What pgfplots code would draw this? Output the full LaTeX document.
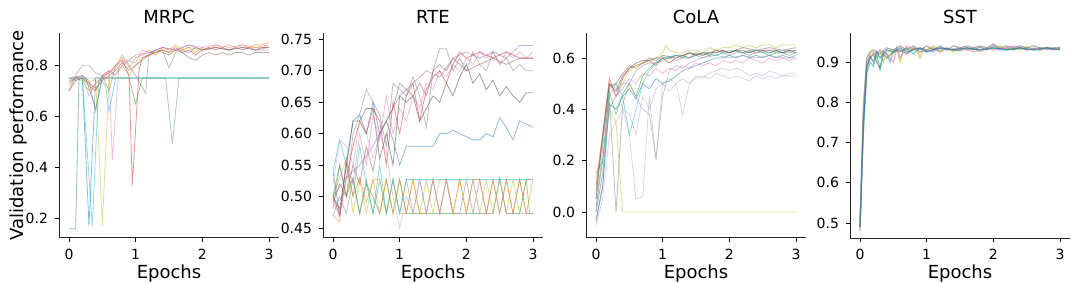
\documentclass[border=0pt]{standalone}
\usepackage{fontspec}
\setmainfont{DejaVu Sans}
\usepackage{pgfplots}
\pgfplotsset{compat=1.18}
\definecolor{tb}{HTML}{1F77B4}
\definecolor{to}{HTML}{FF7F0E}
\definecolor{tg}{HTML}{2CA02C}
\definecolor{tr}{HTML}{D62728}
\definecolor{tp}{HTML}{9467BD}
\definecolor{tbr}{HTML}{8C564B}
\definecolor{tpk}{HTML}{E377C2}
\definecolor{tgy}{HTML}{7F7F7F}
\definecolor{tol}{HTML}{BCBD22}
\definecolor{tc}{HTML}{17BECF}
\pgfplotsset{
  every axis title shift=0pt,
  panel/.style={
    scale only axis, width=110pt, height=102.5pt,
    xmin=-0.15, xmax=3.15,
    axis x line*=bottom, axis y line*=left,
    xtick={0,1,2,3},
    tick align=outside, major tick length=2pt,
    tick style={black, line width=0.4pt},
    axis line style={line width=0.5pt, black!85},
    ticklabel style={font=\fontsize{7}{8}\selectfont},
    /pgf/number format/assume math mode=true,
    xlabel={Epochs},
    xlabel style={font=\fontsize{9}{10}\selectfont, at={(axis description cs:0.5,-0.175)}, anchor=center},
    title style={font=\fontsize{9}{10}\selectfont, at={(axis description cs:0.5,1.08)}, anchor=center, yshift=0pt},
    every axis plot/.append style={line width=0.4pt, opacity=0.5},
    anchor=south west,
  },
}
\begin{document}
\begin{tikzpicture}
\useasboundingbox (0,0) rectangle (540pt,141.5pt);
% ---------------- MRPC ----------------
\begin{axis}[panel, at={(29.5pt,22.5pt)}, title={MRPC},
  ymin=0.1235, ymax=0.9265, ytick={0.2,0.4,0.6,0.8},
  yticklabel style={/pgf/number format/fixed, /pgf/number format/fixed zerofill, /pgf/number format/precision=1},
  ylabel={Validation performance},
  ylabel style={font=\fontsize{9}{10}\selectfont, at={(axis description cs:-0.185,0.5)}, rotate=0, anchor=center}]
\addplot[tb] coordinates {(0,0.16)(0.1,0.16)(0.15,0.75)(0.2,0.75)(0.3,0.17)(0.4,0.75)(0.6,0.75)(3,0.75)};
\addplot[tgy!70!tc] coordinates {(0,0.75)(0.5,0.75)(1.0,0.75)(1.45,0.75)(1.55,0.49)(1.65,0.75)(3,0.75)};
\addplot[tol] coordinates {(0,0.72)(0.1,0.75)(0.2,0.75)(0.3,0.73)(0.4,0.75)(0.5,0.17)(0.6,0.75)(0.7,0.77)(0.8,0.8)(0.9,0.76)(1.0,0.8)(1.1,0.83)(1.2,0.84)(1.3,0.85)(1.4,0.86)(1.5,0.85)(1.6,0.86)(1.8,0.87)(2.0,0.86)(2.2,0.87)(2.4,0.86)(2.6,0.87)(2.8,0.87)(3.0,0.87)};
\addplot[tr] coordinates {(0,0.7)(0.1,0.74)(0.2,0.75)(0.3,0.72)(0.4,0.7)(0.5,0.76)(0.6,0.77)(0.7,0.8)(0.8,0.82)(0.9,0.76)(0.95,0.33)(1.05,0.78)(1.1,0.83)(1.2,0.84)(1.3,0.85)(1.4,0.86)(1.5,0.85)(1.6,0.87)(1.7,0.85)(1.8,0.86)(1.9,0.84)(2.0,0.86)(2.1,0.87)(2.2,0.86)(2.3,0.87)(2.4,0.86)(2.5,0.87)(2.6,0.86)(2.7,0.87)(2.8,0.86)(2.9,0.87)(3.0,0.87)};
\addplot[to] coordinates {(0,0.74)(0.1,0.75)(0.2,0.74)(0.3,0.7)(0.4,0.73)(0.5,0.75)(0.6,0.77)(0.7,0.79)(0.8,0.83)(0.9,0.79)(1.0,0.83)(1.1,0.84)(1.2,0.86)(1.3,0.84)(1.4,0.87)(1.5,0.86)(1.6,0.88)(1.7,0.86)(1.8,0.87)(1.9,0.85)(2.0,0.87)(2.1,0.86)(2.2,0.88)(2.3,0.87)(2.4,0.88)(2.5,0.87)(2.6,0.88)(2.7,0.87)(2.8,0.88)(2.9,0.88)(3.0,0.89)};
\addplot[tbr] coordinates {(0,0.73)(0.1,0.75)(0.2,0.76)(0.3,0.73)(0.4,0.71)(0.5,0.74)(0.6,0.76)(0.7,0.78)(0.8,0.81)(0.9,0.78)(1.0,0.8)(1.1,0.82)(1.2,0.84)(1.3,0.86)(1.4,0.85)(1.5,0.84)(1.6,0.86)(1.7,0.85)(1.8,0.83)(1.9,0.82)(2.0,0.84)(2.1,0.85)(2.2,0.84)(2.3,0.85)(2.4,0.84)(2.5,0.85)(2.6,0.85)(2.7,0.84)(2.8,0.85)(2.9,0.85)(3.0,0.85)};
\addplot[tgy] coordinates {(0,0.7)(0.1,0.76)(0.2,0.8)(0.3,0.8)(0.4,0.77)(0.5,0.76)(0.6,0.7)(0.7,0.8)(0.8,0.84)(0.9,0.8)(1.0,0.76)(1.15,0.69)(1.2,0.85)(1.3,0.85)(1.4,0.86)(1.5,0.79)(1.6,0.85)(1.7,0.86)(1.8,0.85)(1.9,0.87)(2.0,0.86)(2.2,0.87)(2.4,0.86)(2.6,0.87)(2.8,0.86)(3.0,0.87)};
\addplot[tpk] coordinates {(0,0.74)(0.2,0.75)(0.3,0.68)(0.4,0.73)(0.5,0.75)(0.6,0.78)(0.65,0.43)(0.75,0.8)(0.85,0.82)(1.0,0.81)(1.1,0.86)(1.2,0.85)(1.4,0.87)(1.6,0.86)(1.8,0.88)(2.0,0.87)(2.2,0.88)(2.4,0.87)(2.6,0.88)(2.8,0.87)(3.0,0.88)};
\addplot[tg] coordinates {(0,0.75)(0.25,0.75)(0.4,0.63)(0.5,0.75)(0.9,0.75)(1.0,0.65)(1.1,0.75)(3.0,0.75)};
\addplot[tc] coordinates {(0,0.75)(0.1,0.74)(0.2,0.75)(0.35,0.17)(0.45,0.75)(0.55,0.72)(0.6,0.62)(0.7,0.75)(0.8,0.75)(1.0,0.75)(3.0,0.75)};
\addplot[tp] coordinates {(0,0.75)(0.2,0.76)(0.3,0.74)(0.4,0.62)(0.5,0.76)(0.6,0.78)(0.7,0.76)(0.8,0.8)(0.9,0.82)(1.0,0.84)(1.2,0.85)(1.4,0.87)(1.6,0.86)(1.8,0.88)(2.0,0.86)(2.2,0.87)(2.4,0.86)(2.6,0.87)(2.8,0.86)(3.0,0.86)};
\end{axis}
% ---------------- RTE ----------------
\begin{axis}[panel, at={(161.5pt,22.5pt)}, title={RTE},
  ymin=0.434, ymax=0.76, ytick={0.45,0.5,0.55,0.6,0.65,0.7,0.75},
  yticklabel style={/pgf/number format/fixed, /pgf/number format/fixed zerofill, /pgf/number format/precision=2}]
\addplot[tgy] coordinates {(0,0.47)(0.1,0.5)(0.2,0.473)(0.3,0.527)(0.4,0.473)(0.5,0.527)(0.6,0.473)(0.7,0.527)(0.8,0.473)(0.9,0.527)(1.0,0.473)(1.1,0.527)(1.2,0.473)(1.3,0.527)(1.4,0.473)(1.5,0.527)(1.6,0.473)(1.7,0.527)(1.8,0.473)(1.9,0.473)(2.0,0.527)(2.1,0.473)(2.2,0.527)(2.3,0.473)(2.4,0.527)(2.5,0.473)(2.6,0.527)(2.7,0.473)(2.8,0.527)(2.9,0.473)(3.0,0.473)};
\addplot[tol] coordinates {(0,0.5)(0.1,0.53)(0.2,0.56)(0.3,0.473)(0.4,0.527)(0.5,0.473)(0.6,0.527)(0.7,0.527)(0.8,0.473)(0.9,0.527)(1.0,0.473)(1.1,0.473)(1.2,0.527)(1.3,0.473)(1.4,0.527)(1.5,0.473)(1.6,0.527)(1.7,0.527)(1.8,0.473)(1.9,0.527)(2.0,0.473)(2.1,0.527)(2.2,0.473)(2.3,0.527)(2.4,0.473)(2.5,0.527)(2.6,0.473)(2.7,0.527)(2.8,0.473)(2.9,0.527)(3.0,0.527)};
\addplot[tc] coordinates {(0,0.54)(0.1,0.59)(0.2,0.55)(0.3,0.5)(0.4,0.58)(0.5,0.52)(0.6,0.473)(0.7,0.55)(0.8,0.473)(0.9,0.527)(1.0,0.473)(1.1,0.527)(1.2,0.527)(2.0,0.527)(3.0,0.527)};
\addplot[tg] coordinates {(0,0.5)(0.1,0.55)(0.2,0.5)(0.3,0.53)(0.4,0.473)(0.5,0.52)(0.6,0.5)(0.7,0.473)(0.8,0.527)(0.9,0.473)(1.0,0.527)(1.1,0.473)(1.3,0.473)(2.4,0.473)(2.5,0.53)(2.6,0.473)(2.8,0.473)(2.9,0.527)(2.95,0.473)(3.0,0.473)};
\addplot[to] coordinates {(0,0.47)(0.1,0.46)(0.2,0.56)(0.3,0.5)(0.4,0.53)(0.5,0.49)(0.6,0.527)(0.7,0.473)(0.8,0.527)(0.9,0.473)(1.0,0.527)(1.1,0.473)(1.2,0.527)(1.3,0.473)(1.4,0.473)(1.5,0.527)(1.6,0.473)(1.7,0.527)(1.8,0.473)(1.9,0.527)(2.0,0.473)(2.1,0.527)(2.2,0.527)(2.3,0.473)(2.4,0.527)(2.5,0.473)(2.6,0.527)(2.7,0.473)(2.8,0.527)(2.9,0.473)(3.0,0.527)};
\addplot[tb] coordinates {(0,0.54)(0.1,0.47)(0.2,0.55)(0.3,0.62)(0.4,0.63)(0.5,0.6)(0.6,0.65)(0.7,0.6)(0.8,0.62)(0.9,0.59)(1.0,0.55)(1.1,0.58)(1.2,0.58)(1.3,0.58)(1.4,0.58)(1.5,0.58)(1.6,0.6)(1.7,0.6)(1.8,0.605)(1.9,0.6)(2.0,0.595)(2.1,0.59)(2.2,0.59)(2.3,0.6)(2.4,0.595)(2.5,0.625)(2.6,0.61)(2.7,0.59)(2.8,0.62)(2.9,0.615)(3.0,0.61)};
\addplot[black!75] coordinates {(0,0.5)(0.1,0.48)(0.2,0.55)(0.3,0.62)(0.4,0.62)(0.5,0.64)(0.6,0.64)(0.7,0.56)(0.8,0.6)(0.9,0.55)(1.0,0.66)(1.1,0.65)(1.2,0.66)(1.3,0.62)(1.4,0.64)(1.5,0.66)(1.6,0.65)(1.7,0.68)(1.8,0.66)(1.9,0.69)(2.0,0.71)(2.1,0.68)(2.2,0.695)(2.3,0.67)(2.4,0.685)(2.5,0.66)(2.6,0.675)(2.7,0.66)(2.8,0.65)(2.9,0.665)(3.0,0.665)};
\addplot[tpk] coordinates {(0,0.49)(0.1,0.47)(0.2,0.56)(0.3,0.52)(0.4,0.6)(0.5,0.55)(0.6,0.63)(0.7,0.59)(0.8,0.66)(0.9,0.6)(1.0,0.64)(1.1,0.62)(1.2,0.66)(1.3,0.64)(1.4,0.68)(1.5,0.67)(1.6,0.7)(1.7,0.69)(1.8,0.71)(1.9,0.7)(2.0,0.72)(2.1,0.71)(2.2,0.73)(2.3,0.72)(2.4,0.73)(2.5,0.71)(2.6,0.73)(2.7,0.72)(2.8,0.73)(2.9,0.72)(3.0,0.73)};
\addplot[tgy] coordinates {(0,0.48)(0.1,0.55)(0.2,0.5)(0.3,0.6)(0.4,0.63)(0.5,0.67)(0.6,0.65)(0.7,0.63)(0.8,0.58)(0.9,0.68)(1.0,0.67)(1.1,0.66)(1.2,0.69)(1.3,0.66)(1.4,0.61)(1.5,0.7)(1.6,0.735)(1.7,0.735)(1.8,0.7)(1.9,0.72)(2.0,0.7)(2.1,0.73)(2.2,0.71)(2.3,0.7)(2.4,0.73)(2.5,0.71)(2.6,0.72)(2.7,0.7)(2.8,0.71)(2.9,0.7)(3.0,0.7)};
\addplot[tp] coordinates {(0,0.5)(0.2,0.53)(0.4,0.55)(0.6,0.58)(0.8,0.62)(1.0,0.66)(1.2,0.68)(1.4,0.7)(1.6,0.69)(1.8,0.72)(2.0,0.73)(2.2,0.72)(2.4,0.73)(2.6,0.72)(2.8,0.74)(3.0,0.74)};
\addplot[tp!60] coordinates {(0,0.52)(0.1,0.59)(0.2,0.58)(0.3,0.55)(0.4,0.62)(0.5,0.6)(0.6,0.56)(0.7,0.6)(0.8,0.57)(0.9,0.5)(1.0,0.45)(1.1,0.5)(1.2,0.473)(1.3,0.527)(1.4,0.473)(1.5,0.527)(1.6,0.473)(1.7,0.527)(1.8,0.473)(2.0,0.473)(2.1,0.527)(2.2,0.473)(2.4,0.473)(2.5,0.527)(2.6,0.473)(3.0,0.473)};
\addplot[tr] coordinates {(0,0.5)(0.1,0.47)(0.2,0.53)(0.3,0.58)(0.4,0.62)(0.5,0.6)(0.6,0.64)(0.7,0.62)(0.8,0.55)(0.9,0.65)(1.0,0.6)(1.1,0.66)(1.2,0.68)(1.3,0.62)(1.4,0.67)(1.5,0.69)(1.6,0.7)(1.7,0.68)(1.8,0.71)(1.9,0.73)(2.0,0.72)(2.2,0.73)(2.4,0.72)(2.6,0.73)(2.8,0.72)(3.0,0.72)};
\addplot[tbr] coordinates {(0,0.49)(0.1,0.52)(0.2,0.5)(0.3,0.55)(0.4,0.52)(0.5,0.58)(0.6,0.54)(0.7,0.6)(0.8,0.62)(0.9,0.64)(1.0,0.68)(1.1,0.67)(1.2,0.66)(1.3,0.68)(1.4,0.66)(1.5,0.7)(1.6,0.71)(1.7,0.7)(1.8,0.72)(1.9,0.71)(2.0,0.7)(2.2,0.71)(2.4,0.72)(2.6,0.71)(2.8,0.72)(3.0,0.72)};
\end{axis}
% ---------------- CoLA ----------------
\begin{axis}[panel, at={(293pt,22.5pt)}, title={CoLA},
  ymin=-0.101, ymax=0.697, ytick={0,0.2,0.4,0.6},
  yticklabel style={/pgf/number format/fixed, /pgf/number format/fixed zerofill, /pgf/number format/precision=1}]
\addplot[tol] coordinates {(0,0.05)(0.1,0.2)(0.2,0.4)(0.3,0.35)(0.4,0.0)(1.0,0.0)(3.0,0.0)};
\addplot[tgy] coordinates {(0,-0.04)(0.1,0.1)(0.2,0.45)(0.3,0.0)(0.4,0.42)(0.5,0.5)(0.6,0.55)(0.7,0.57)(0.8,0.58)(0.9,0.58)(1.0,0.59)(1.1,0.6)(1.2,0.59)(1.3,0.6)(1.4,0.6)(1.5,0.61)(1.6,0.6)(1.7,0.61)(1.8,0.61)(1.9,0.62)(2.0,0.61)(2.1,0.62)(2.2,0.62)(2.3,0.61)(2.4,0.62)(2.5,0.62)(2.6,0.63)(2.7,0.62)(2.8,0.62)(2.9,0.62)(3.0,0.63)};
\addplot[tgy!60] coordinates {(0,0.0)(0.1,0.15)(0.2,0.45)(0.3,0.5)(0.4,0.4)(0.5,0.3)(0.6,0.05)(0.7,0.06)(0.8,0.45)(0.9,0.2)(1.0,0.5)(1.1,0.52)(1.2,0.5)(1.3,0.38)(1.4,0.5)(1.5,0.53)(1.6,0.52)(1.7,0.54)(1.8,0.55)(1.9,0.56)(2.0,0.55)(2.1,0.56)(2.2,0.55)(2.3,0.53)(2.4,0.54)(2.5,0.53)(2.6,0.55)(2.7,0.54)(2.8,0.53)(2.9,0.54)(3.0,0.54)};
\addplot[tr] coordinates {(0,0.1)(0.1,0.3)(0.2,0.52)(0.3,0.45)(0.4,0.52)(0.5,0.56)(0.6,0.57)(0.7,0.58)(0.8,0.59)(0.9,0.57)(1.0,0.6)(1.1,0.58)(1.2,0.6)(1.3,0.61)(1.4,0.6)(1.5,0.62)(1.6,0.61)(1.7,0.62)(1.8,0.62)(1.9,0.63)(2.0,0.62)(2.1,0.63)(2.2,0.62)(2.3,0.63)(2.4,0.62)(2.5,0.63)(2.6,0.62)(2.7,0.63)(2.8,0.62)(2.9,0.63)(3.0,0.62)};
\addplot[tol] coordinates {(0,0.12)(0.1,0.3)(0.2,0.5)(0.3,0.48)(0.4,0.5)(0.5,0.55)(0.6,0.57)(0.7,0.58)(0.8,0.59)(0.9,0.6)(1.0,0.62)(1.05,0.65)(1.1,0.63)(1.2,0.62)(1.3,0.62)(1.4,0.63)(1.5,0.63)(1.6,0.62)(1.7,0.64)(1.8,0.63)(1.9,0.64)(2.0,0.64)(2.1,0.65)(2.2,0.64)(2.3,0.65)(2.4,0.64)(2.5,0.65)(2.6,0.65)(2.7,0.64)(2.8,0.65)(2.9,0.65)(3.0,0.65)};
\addplot[tg] coordinates {(0,0.15)(0.1,0.2)(0.2,0.47)(0.3,0.38)(0.4,0.46)(0.5,0.5)(0.6,0.45)(0.7,0.53)(0.8,0.56)(0.9,0.58)(1.0,0.6)(1.1,0.6)(1.2,0.61)(1.3,0.6)(1.4,0.62)(1.5,0.61)(1.6,0.62)(1.7,0.61)(1.8,0.63)(1.9,0.62)(2.0,0.62)(2.1,0.63)(2.2,0.62)(2.3,0.62)(2.4,0.63)(2.5,0.62)(2.6,0.61)(2.7,0.62)(2.8,0.62)(2.9,0.61)(3.0,0.62)};
\addplot[tpk] coordinates {(0,0.0)(0.1,0.25)(0.2,0.5)(0.3,0.45)(0.4,0.48)(0.5,0.52)(0.6,0.5)(0.7,0.54)(0.8,0.53)(0.9,0.56)(1.0,0.54)(1.1,0.56)(1.2,0.55)(1.3,0.57)(1.4,0.56)(1.5,0.58)(1.6,0.57)(1.7,0.58)(1.8,0.57)(1.9,0.59)(2.0,0.58)(2.1,0.59)(2.2,0.58)(2.3,0.6)(2.4,0.59)(2.5,0.58)(2.6,0.6)(2.7,0.59)(2.8,0.6)(2.9,0.59)(3.0,0.6)};
\addplot[tb] coordinates {(0,-0.03)(0.1,0.1)(0.2,0.42)(0.3,0.4)(0.4,0.45)(0.5,0.48)(0.6,0.44)(0.7,0.5)(0.8,0.48)(0.9,0.52)(1.0,0.5)(1.1,0.51)(1.2,0.53)(1.3,0.55)(1.4,0.56)(1.5,0.57)(1.6,0.58)(1.7,0.59)(1.8,0.6)(1.9,0.6)(2.0,0.61)(2.1,0.6)(2.2,0.61)(2.3,0.6)(2.4,0.61)(2.5,0.6)(2.6,0.61)(2.7,0.6)(2.8,0.61)(2.9,0.6)(3.0,0.61)};
\addplot[tp!60] coordinates {(0,-0.05)(0.1,0.05)(0.2,0.3)(0.3,0.35)(0.4,0.4)(0.5,0.38)(0.6,0.3)(0.7,0.45)(0.8,0.4)(0.9,0.48)(1.0,0.5)(1.1,0.47)(1.2,0.5)(1.3,0.52)(1.4,0.5)(1.5,0.52)(1.6,0.53)(1.7,0.52)(1.8,0.54)(1.9,0.53)(2.0,0.52)(2.1,0.53)(2.2,0.52)(2.3,0.51)(2.4,0.53)(2.5,0.52)(2.6,0.53)(2.7,0.52)(2.8,0.53)(2.9,0.53)(3.0,0.53)};
\addplot[black!70] coordinates {(0,0.05)(0.1,0.3)(0.2,0.5)(0.3,0.47)(0.4,0.53)(0.5,0.56)(0.6,0.58)(0.7,0.59)(0.8,0.59)(0.9,0.6)(1.0,0.6)(1.1,0.6)(1.2,0.61)(1.3,0.61)(1.4,0.62)(1.5,0.61)(1.6,0.62)(1.7,0.62)(1.8,0.62)(1.9,0.63)(2.0,0.62)(2.1,0.63)(2.2,0.63)(2.3,0.62)(2.4,0.63)(2.5,0.63)(2.6,0.63)(2.7,0.63)(2.8,0.62)(2.9,0.63)(3.0,0.63)};
\addplot[tc] coordinates {(0,0.02)(0.1,0.2)(0.2,0.48)(0.3,0.5)(0.4,0.45)(0.5,0.3)(0.6,0.4)(0.7,0.5)(0.8,0.55)(0.9,0.58)(1.0,0.6)(1.2,0.61)(1.4,0.6)(1.6,0.62)(1.8,0.61)(2.0,0.63)(2.2,0.62)(2.4,0.63)(2.6,0.62)(2.8,0.63)(3.0,0.62)};
\addplot[tgy!80] coordinates {(0,0.0)(0.1,0.15)(0.2,0.4)(0.3,0.45)(0.4,0.5)(0.5,0.5)(0.6,0.45)(0.7,0.4)(0.8,0.38)(0.9,0.21)(1.0,0.45)(1.1,0.55)(1.2,0.57)(1.3,0.56)(1.4,0.58)(1.5,0.59)(1.6,0.6)(1.8,0.61)(2.0,0.6)(2.2,0.61)(2.4,0.6)(2.6,0.61)(2.8,0.6)(3.0,0.6)};
\addplot[tbr] coordinates {(0,0.08)(0.1,0.28)(0.2,0.49)(0.3,0.5)(0.4,0.54)(0.5,0.57)(0.6,0.56)(0.7,0.58)(0.8,0.6)(0.9,0.59)(1.0,0.61)(1.2,0.6)(1.4,0.62)(1.6,0.61)(1.8,0.63)(2.0,0.62)(2.2,0.64)(2.4,0.63)(2.6,0.64)(2.8,0.63)(3.0,0.64)};
\end{axis}
% ---------------- SST ----------------
\begin{axis}[panel, at={(425pt,22.5pt)}, title={SST},
  ymin=0.463, ymax=0.972, ytick={0.5,0.6,0.7,0.8,0.9},
  yticklabel style={/pgf/number format/fixed, /pgf/number format/fixed zerofill, /pgf/number format/precision=1},
  every axis plot/.append style={line width=0.6pt, opacity=0.6}]
\addplot[tbr] coordinates {(0,0.49)(0.05,0.75)(0.1,0.89)(0.15,0.91)(0.2,0.92)(0.25,0.9)(0.3,0.885)(0.35,0.92)(0.4,0.91)(0.5,0.925)(0.6,0.93)(0.7,0.92)(0.8,0.935)(0.9,0.925)(1.0,0.93)(1.1,0.935)(1.2,0.925)(1.3,0.935)(1.4,0.93)(1.5,0.928)(1.6,0.935)(1.7,0.93)(1.8,0.937)(1.9,0.93)(2.0,0.94)(2.1,0.932)(2.2,0.935)(2.3,0.93)(2.4,0.936)(2.5,0.93)(2.6,0.934)(2.7,0.93)(2.8,0.935)(2.9,0.932)(3.0,0.934)};
\addplot[tol] coordinates {(0,0.5)(0.05,0.8)(0.1,0.9)(0.15,0.92)(0.2,0.925)(0.25,0.91)(0.3,0.93)(0.35,0.9)(0.4,0.925)(0.45,0.93)(0.5,0.92)(0.55,0.935)(0.6,0.9)(0.65,0.93)(0.7,0.935)(0.75,0.925)(0.8,0.935)(0.85,0.93)(0.9,0.91)(0.95,0.935)(1.0,0.93)(1.1,0.94)(1.2,0.93)(1.3,0.935)(1.4,0.925)(1.5,0.935)(1.6,0.93)(1.7,0.935)(1.8,0.925)(1.9,0.935)(2.0,0.93)(2.1,0.94)(2.2,0.93)(2.3,0.935)(2.4,0.93)(2.5,0.938)(2.6,0.93)(2.7,0.935)(2.8,0.93)(2.9,0.935)(3.0,0.93)};
\addplot[tc!70!tg] coordinates {(0,0.49)(0.05,0.72)(0.1,0.87)(0.15,0.9)(0.2,0.89)(0.25,0.92)(0.3,0.88)(0.35,0.925)(0.4,0.92)(0.45,0.9)(0.5,0.93)(0.6,0.925)(0.7,0.935)(0.8,0.92)(0.9,0.935)(1.0,0.925)(1.2,0.935)(1.4,0.93)(1.6,0.935)(1.8,0.93)(2.0,0.935)(2.2,0.93)(2.4,0.935)(2.6,0.93)(2.8,0.935)(3.0,0.932)};
\addplot[tpk] coordinates {(0,0.5)(0.05,0.78)(0.1,0.9)(0.2,0.92)(0.3,0.93)(0.4,0.92)(0.5,0.9)(0.55,0.935)(0.6,0.91)(0.7,0.94)(0.8,0.93)(0.9,0.935)(1.0,0.93)(1.1,0.925)(1.2,0.935)(1.3,0.93)(1.5,0.935)(1.7,0.925)(1.9,0.935)(2.1,0.93)(2.3,0.94)(2.5,0.93)(2.7,0.935)(2.9,0.93)(3.0,0.935)};
\addplot[tgy] coordinates {(0,0.48)(0.05,0.76)(0.1,0.91)(0.15,0.925)(0.2,0.93)(0.3,0.92)(0.4,0.935)(0.5,0.93)(0.6,0.94)(0.7,0.93)(0.8,0.94)(0.9,0.93)(1.0,0.94)(1.1,0.93)(1.2,0.94)(1.3,0.93)(1.4,0.94)(1.5,0.935)(1.6,0.94)(1.7,0.935)(1.8,0.94)(1.9,0.935)(2.0,0.945)(2.1,0.935)(2.2,0.94)(2.3,0.935)(2.4,0.94)(2.5,0.935)(2.6,0.94)(2.7,0.935)(2.8,0.935)(2.9,0.935)(3.0,0.937)};
\addplot[tb] coordinates {(0,0.49)(0.05,0.74)(0.1,0.88)(0.15,0.915)(0.2,0.9)(0.25,0.925)(0.3,0.91)(0.4,0.93)(0.5,0.925)(0.6,0.935)(0.7,0.925)(0.8,0.93)(0.9,0.935)(1.0,0.925)(1.1,0.93)(1.2,0.935)(1.4,0.93)(1.6,0.935)(1.8,0.93)(2.0,0.935)(2.2,0.93)(2.4,0.935)(2.6,0.93)(2.8,0.935)(3.0,0.93)};
\end{axis}
\end{tikzpicture}
\end{document}
